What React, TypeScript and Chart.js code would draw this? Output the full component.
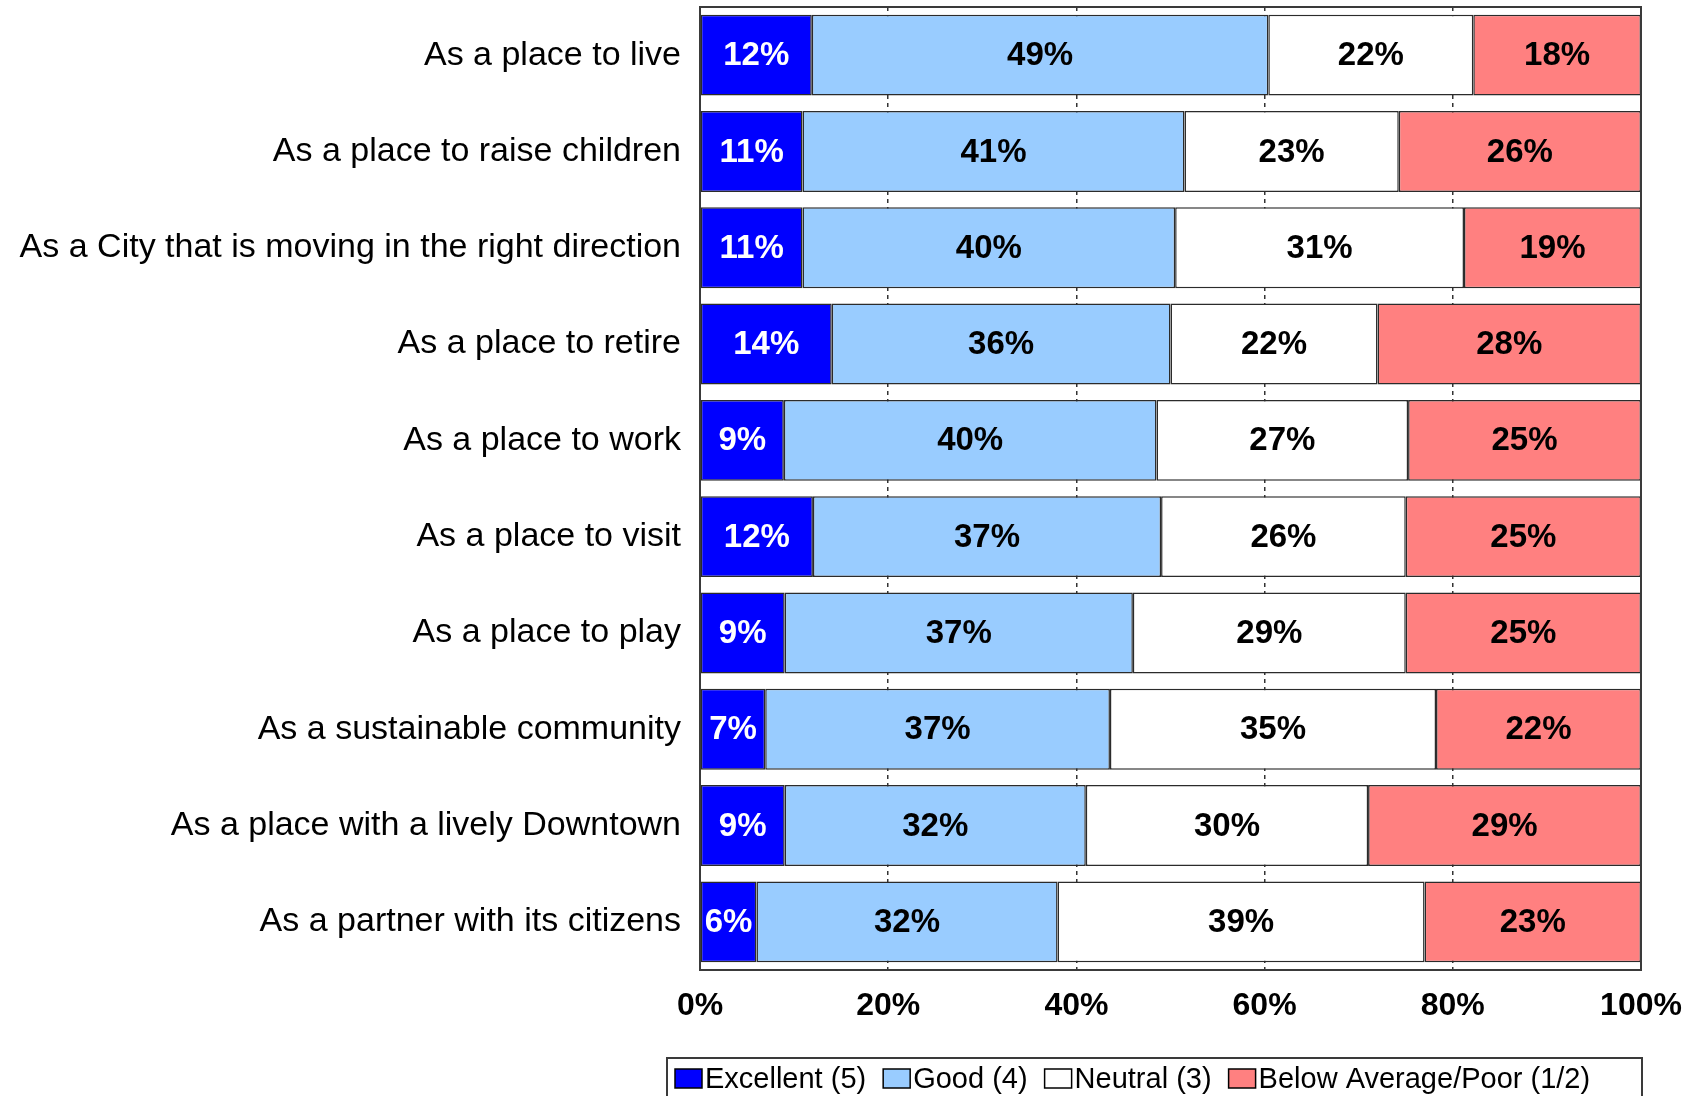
import React, { useEffect, useRef } from "react";
import { Chart, registerables } from "chart.js";

Chart.register(...registerables);

const categories = [
  "As a place to live",
  "As a place to raise children",
  "As a City that is moving in the right direction",
  "As a place to retire",
  "As a place to work",
  "As a place to visit",
  "As a place to play",
  "As a sustainable community",
  "As a place with a lively Downtown",
  "As a partner with its citizens",
];

const seriesNames = ["Excellent (5)", "Good (4)", "Neutral (3)", "Below Average/Poor (1/2)"];

const excellent = [12, 11, 11, 14, 9, 12, 9, 7, 9, 6];
const good = [49, 41, 40, 36, 40, 37, 37, 37, 32, 32];
const neutral = [22, 23, 31, 22, 27, 26, 29, 35, 30, 39];
const belowAveragePoor = [18, 26, 19, 28, 25, 25, 25, 22, 29, 23];

const xTickValues = [0, 20, 40, 60, 80, 100];

const seriesColors = ["#0000FF", "#99CCFF", "#FFFFFF", "#FF8080"];
const labelColors = ["#FFFFFF", "#000000", "#000000", "#000000"];

const FONT = '"Liberation Sans", Arial, Helvetica, sans-serif';

export default function App() {
  const canvasRef = useRef<HTMLCanvasElement | null>(null);

  useEffect(() => {
    const canvas = canvasRef.current;
    if (!canvas) return;

    const allSeries = [excellent, good, neutral, belowAveragePoor];
    const rowTotals = categories.map((_, i) =>
      allSeries.reduce((acc, s) => acc + s[i], 0)
    );

    const datasets = allSeries.map((s, k) => ({
      label: seriesNames[k],
      data: s.map((v, i) => (v / rowTotals[i]) * 100),
      rawValues: s,
      backgroundColor: seriesColors[k],
      borderColor: "#2b2b2b",
      borderWidth: 1.5,
      borderSkipped: false,
      barPercentage: 0.84,
      categoryPercentage: 1.0,
    }));

    const framePlugin = {
      id: "frame",
      afterDatasetsDraw(chart: any) {
        const { ctx, chartArea } = chart;
        ctx.save();
        ctx.strokeStyle = "#3a3a3a";
        ctx.lineWidth = 2;
        ctx.strokeRect(
          chartArea.left,
          chartArea.top,
          chartArea.right - chartArea.left,
          chartArea.bottom - chartArea.top
        );
        ctx.restore();
      },
    };

    const valueLabelPlugin = {
      id: "valueLabels",
      afterDatasetsDraw(chart: any) {
        const { ctx } = chart;
        ctx.save();
        ctx.font = `bold 33px ${FONT}`;
        ctx.textAlign = "center";
        ctx.textBaseline = "middle";
        chart.data.datasets.forEach((ds: any, k: number) => {
          const meta = chart.getDatasetMeta(k);
          meta.data.forEach((el: any, i: number) => {
            const p = el.getProps(["x", "y", "base"], true);
            const cx = (p.x + p.base) / 2;
            ctx.fillStyle = labelColors[k];
            ctx.fillText(`${ds.rawValues[i]}%`, cx, p.y + 1);
          });
        });
        ctx.restore();
      },
    };

    const legendPlugin = {
      id: "boxLegend",
      afterDraw(chart: any) {
        const { ctx, chartArea } = chart;
        const top = 1058;
        const left = 667;
        const right = chartArea.right + 1;
        ctx.save();
        ctx.fillStyle = "#FFFFFF";
        ctx.fillRect(left, top, right - left, 60);
        ctx.strokeStyle = "#3a3a3a";
        ctx.lineWidth = 2;
        ctx.strokeRect(left, top, right - left, 60);
        ctx.font = `29px ${FONT}`;
        ctx.textAlign = "left";
        ctx.textBaseline = "alphabetic";
        let x = left + 8;
        const boxTop = 1069;
        const boxW = 27;
        const boxH = 19;
        seriesNames.forEach((name, k) => {
          ctx.fillStyle = seriesColors[k];
          ctx.fillRect(x, boxTop, boxW, boxH);
          ctx.strokeStyle = "#000000";
          ctx.lineWidth = 1.5;
          ctx.strokeRect(x, boxTop, boxW, boxH);
          ctx.fillStyle = "#000000";
          const tx = x + boxW + 3;
          ctx.fillText(name, tx, boxTop + boxH);
          x = tx + ctx.measureText(name).width + 17;
        });
        ctx.restore();
      },
    };

    const chart = new Chart(canvas, {
      type: "bar",
      data: {
        labels: categories,
        datasets: datasets as any,
      },
      options: {
        indexAxis: "y",
        responsive: false,
        animation: false,
        devicePixelRatio: 1,
        layout: {
          padding: { left: 0, right: 61, top: 7, bottom: 70 },
        },
        plugins: {
          legend: { display: false },
          tooltip: { enabled: false },
        },
        scales: {
          x: {
            stacked: true,
            min: 0,
            max: 100,
            afterBuildTicks(scale: any) {
              scale.ticks = xTickValues.map((v) => ({ value: v }));
            },
            afterFit(scale: any) {
              scale.height = 56;
            },
            ticks: {
              padding: 17,
              color: "#000000",
              font: { family: FONT, size: 32, weight: "bold" },
              callback: (v: any) => `${v}%`,
              maxRotation: 0,
              autoSkip: false,
            },
            grid: {
              drawTicks: false,
              color: "#333333",
              lineWidth: 1.5,
            },
            border: { display: false, dash: [4, 4] },
          },
          y: {
            stacked: true,
            afterFit(scale: any) {
              scale.width = 700;
              scale.paddingTop = 0;
              scale.paddingBottom = 0;
            },
            ticks: {
              padding: 19,
              color: "#000000",
              font: { family: FONT, size: 34 },
              autoSkip: false,
            },
            grid: { display: false, drawTicks: false },
            border: { display: false },
          },
        },
      },
      plugins: [framePlugin, valueLabelPlugin, legendPlugin],
    });

    return () => {
      chart.destroy();
    };
  }, []);

  return (
    <div style={{ position: "absolute", left: 0, top: 0, width: 1702, height: 1096, background: "#FFFFFF" }}>
      <canvas ref={canvasRef} width={1702} height={1096} style={{ display: "block" }} />
    </div>
  );
}
